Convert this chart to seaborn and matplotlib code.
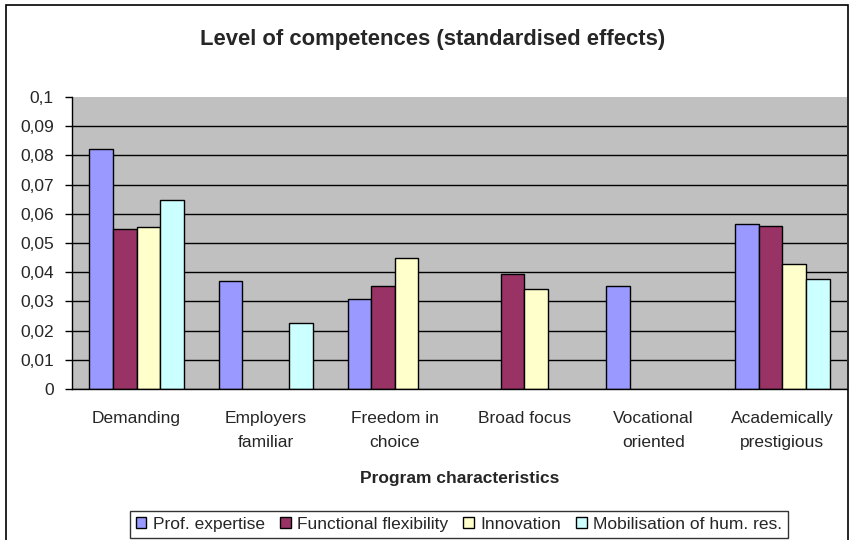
import numpy as np
import pandas as pd
import seaborn as sns
import matplotlib.pyplot as plt
from matplotlib.patches import Rectangle

# chart data
characteristics = ['Demanding', 'Employers familiar', 'Freedom in choice',
                   'Broad focus', 'Vocational oriented', 'Academically prestigious']
tick_labels = ['Demanding', 'Employers\nfamiliar', 'Freedom in\nchoice',
               'Broad focus', 'Vocational\noriented', 'Academically\nprestigious']
competences = ['Prof. expertise', 'Functional flexibility', 'Innovation',
               'Mobilisation of hum. res.']
prof_expertise = [0.0821, 0.0371, 0.0308, np.nan, 0.0352, 0.0564]
functional_flexibility = [0.0548, np.nan, 0.0352, 0.0395, np.nan, 0.0559]
innovation = [0.0555, np.nan, 0.0448, 0.0342, np.nan, 0.0429]
mobilisation = [0.0647, 0.0226, np.nan, np.nan, np.nan, 0.0376]
colors = ['#9999FF', '#993366', '#FFFFCC', '#CCFFFF']

series = [prof_expertise, functional_flexibility, innovation, mobilisation]
rows = []
for name, vals in zip(competences, series):
    for cat, v in zip(characteristics, vals):
        rows.append({'characteristic': cat, 'competence': name, 'effect': v})
df = pd.DataFrame(rows)

sns.set_style('white')
plt.rcParams['font.family'] = ['Liberation Sans', 'DejaVu Sans']

fig = plt.figure(figsize=(8.52, 5.4), dpi=100)
ax = fig.add_axes([72 / 852, 1 - 389 / 540, 775 / 852, 292 / 540])
ax.set_facecolor('#C0C0C0')

sns.barplot(data=df, x='characteristic', y='effect', hue='competence',
            order=characteristics, hue_order=competences, palette=colors,
            saturation=1, width=0.73, gap=0, errorbar=None, edgecolor='black',
            linewidth=1, ax=ax, legend=True)

ax.set_ylim(0, 0.1)
ax.set_xlim(-0.5, len(characteristics) - 0.5)
yt = np.round(np.arange(0, 0.1001, 0.01), 2)
ax.set_yticks(yt)
ax.set_yticklabels([('%g' % v).replace('.', ',') for v in yt], fontsize=12.5)
ax.yaxis.grid(True, color='black', linewidth=1)
ax.set_axisbelow(True)
ax.get_ygridlines()[-1].set_visible(False)

ax.set_xticks(np.arange(len(characteristics)))
ax.set_xticklabels(tick_labels, fontsize=12.5, linespacing=1.75, va='top')
ax.set_xticks(np.arange(len(characteristics) + 1) - 0.5, minor=True)
ax.tick_params(axis='x', which='major', length=0, pad=16)
ax.tick_params(axis='x', which='minor', length=5, width=1, color='black', direction='out')
ax.tick_params(axis='y', length=5, width=1, color='black', direction='out', left=True, pad=8)

for s in ['top', 'right']:
    ax.spines[s].set_visible(False)
for s in ['left', 'bottom']:
    ax.spines[s].set_color('black')
    ax.spines[s].set_linewidth(1)

ax.set_ylabel('')
ax.set_xlabel('Program characteristics', fontsize=12.5, fontweight='bold')
ax.xaxis.set_label_coords(0.5, -0.28)

fig.text(433 / 852, 1 - 39 / 540, 'Level of competences (standardised effects)',
         fontsize=15.8, fontweight='bold', ha='center', va='center')

handles, labels = ax.get_legend_handles_labels()
ax.get_legend().remove()
leg = fig.legend(handles, labels, loc='lower center', bbox_to_anchor=(459 / 852, 2 / 540),
                 ncol=4, fontsize=12.5, frameon=True, fancybox=False,
                 handlelength=0.6, handleheight=0.6, handletextpad=0.35,
                 columnspacing=0.9, borderpad=0.35, borderaxespad=0)
leg.get_frame().set_edgecolor('black')
leg.get_frame().set_linewidth(1)

fig.patches.append(Rectangle((6 / 852, -0.05), 842 / 852, 1.05 - 5 / 540,
                             transform=fig.transFigure, fill=False,
                             edgecolor='black', linewidth=1.2))

fig.savefig('out.png', dpi=100)
